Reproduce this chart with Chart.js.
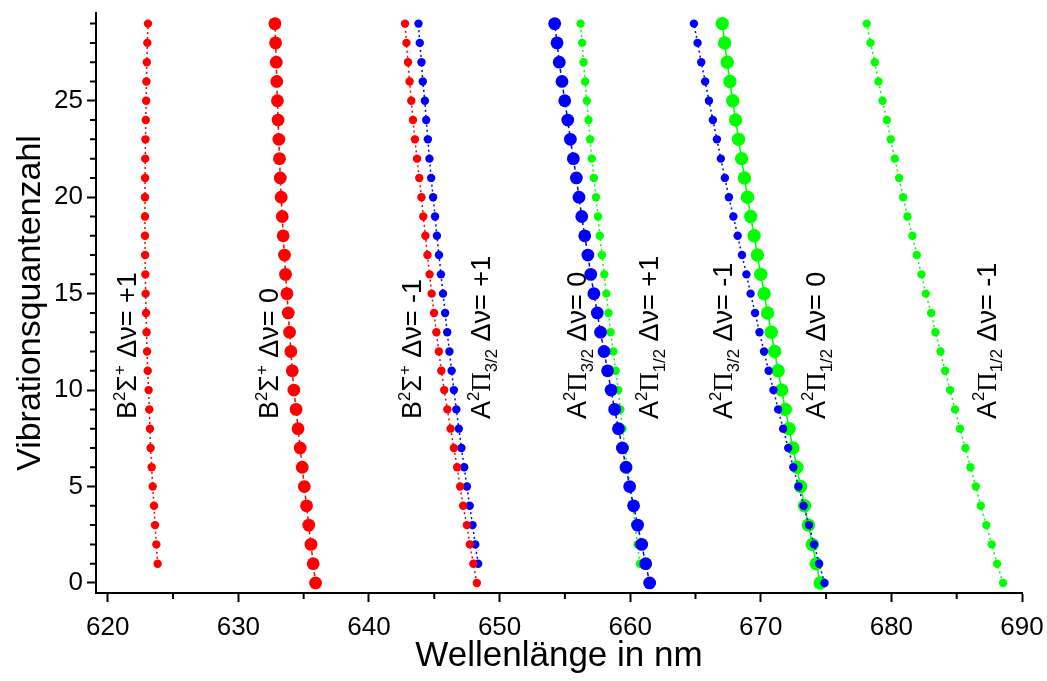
<!DOCTYPE html>
<html>
<head>
<meta charset="utf-8">
<script src="https://cdn.jsdelivr.net/npm/chart.js@4.4.0/dist/chart.umd.min.js"></script>
<style>
    html, body { margin: 0; padding: 0; background: #fff; }
    canvas { display: block; }
</style>
</head>
<body>
<canvas id="bandChart" width="1047" height="681"></canvas>
<script>
// Vibrationsquantenzahl v (y-Achse)
const vAll = [0, 1, 2, 3, 4, 5, 6, 7, 8, 9, 10, 11, 12, 13, 14, 15, 16, 17, 18, 19, 20, 21, 22, 23, 24, 25, 26, 27, 28, 29];
const vFromOne = [1, 2, 3, 4, 5, 6, 7, 8, 9, 10, 11, 12, 13, 14, 15, 16, 17, 18, 19, 20, 21, 22, 23, 24, 25, 26, 27, 28, 29];

// Wellenlängen in nm, Reihenfolge wie v
const bSigmaPlus1 = [623.82, 623.72, 623.62, 623.54, 623.44, 623.36, 623.28, 623.23, 623.18, 623.13, 623.06, 623.01, 622.97, 622.93, 622.90, 622.88, 622.86, 622.85, 622.85, 622.85, 622.86, 622.87, 622.89, 622.91, 622.94, 622.96, 622.99, 623.03, 623.08];
const bSigma0 = [635.91, 635.73, 635.56, 635.39, 635.22, 635.05, 634.89, 634.73, 634.57, 634.42, 634.25, 634.13, 634.02, 633.92, 633.82, 633.72, 633.61, 633.53, 633.43, 633.36, 633.28, 633.21, 633.15, 633.10, 633.04, 632.99, 632.94, 632.90, 632.85, 632.80];
const bSigmaMinus1 = [648.26, 647.99, 647.72, 647.49, 647.21, 646.98, 646.75, 646.50, 646.25, 646.00, 645.76, 645.54, 645.35, 645.16, 644.98, 644.80, 644.64, 644.48, 644.32, 644.16, 644.02, 643.85, 643.68, 643.52, 643.37, 643.24, 643.11, 642.99, 642.87, 642.76];
const aPi32Plus1 = [648.36, 648.14, 647.93, 647.71, 647.50, 647.29, 647.08, 646.88, 646.69, 646.50, 646.33, 646.16, 645.99, 645.83, 645.67, 645.51, 645.36, 645.20, 645.06, 644.91, 644.76, 644.63, 644.51, 644.38, 644.28, 644.12, 644.02, 643.89, 643.79];
const aPi32_0 = [661.49, 661.19, 660.88, 660.57, 660.26, 659.96, 659.68, 659.40, 659.10, 658.81, 658.54, 658.27, 658.00, 657.73, 657.48, 657.22, 656.98, 656.76, 656.52, 656.29, 656.08, 655.88, 655.65, 655.42, 655.22, 654.99, 654.78, 654.57, 654.40, 654.22];
const aPi12Plus1 = [660.75, 660.56, 660.37, 660.18, 659.98, 659.79, 659.60, 659.41, 659.25, 659.09, 658.89, 658.71, 658.50, 658.34, 658.17, 658.02, 657.84, 657.67, 657.54, 657.38, 657.22, 657.06, 656.93, 656.81, 656.68, 656.55, 656.43, 656.32, 656.20];
const aPi32Minus1 = [674.88, 674.47, 674.08, 673.69, 673.28, 672.89, 672.49, 672.10, 671.71, 671.33, 670.97, 670.60, 670.25, 669.90, 669.56, 669.22, 668.90, 668.56, 668.23, 667.90, 667.56, 667.25, 666.94, 666.64, 666.33, 666.03, 665.74, 665.44, 665.16, 664.88];
const aPi12_0 = [674.55, 674.25, 673.95, 673.65, 673.35, 673.05, 672.76, 672.46, 672.17, 671.88, 671.60, 671.33, 671.06, 670.80, 670.52, 670.26, 670.00, 669.74, 669.49, 669.23, 668.98, 668.75, 668.53, 668.30, 668.07, 667.85, 667.64, 667.43, 667.23, 667.05];
const aPi12Minus1 = [688.55, 688.09, 687.68, 687.27, 686.84, 686.46, 686.05, 685.67, 685.25, 684.87, 684.49, 684.11, 683.76, 683.37, 683.04, 682.63, 682.30, 681.94, 681.61, 681.23, 680.90, 680.59, 680.26, 679.95, 679.65, 679.32, 679.01, 678.73, 678.40, 678.11];

// Achsen
const xTicks = [620, 630, 640, 650, 660, 670, 680, 690];
const yTicks = [0, 5, 10, 15, 20, 25];

const RED = '#ff0000';
const BLUE = '#0000ff';
const GREEN = '#00ff00';
const FONT = '"Liberation Sans", Arial, sans-serif';

function series(xs, vs, color, radius, dash, order) {
    return {
        data: xs.map((x, i) => ({ x: x, y: vs[i] })),
        showLine: true,
        borderColor: color,
        backgroundColor: color,
        borderWidth: 1.5,
        borderDash: dash,
        pointRadius: radius,
        pointHoverRadius: radius,
        pointBorderWidth: 0,
        order: order
    };
}

// Beschriftung der Banden (gedreht), Position in Datenkoordinaten
const seriesLabels = [
    { x: 622.19, y: 8.5, parts: [['B', ''], ['2', 'sup'], ['Σ', ''], ['+', 'sup'], [' Δν= +1', '']] },
    { x: 633.05, y: 8.5, parts: [['B', ''], ['2', 'sup'], ['Σ', ''], ['+', 'sup'], [' Δν= 0', '']] },
    { x: 643.99, y: 8.5, parts: [['B', ''], ['2', 'sup'], ['Σ', ''], ['+', 'sup'], [' Δν= -1', '']] },
    { x: 649.30, y: 8.5, parts: [['A', ''], ['2', 'sup'], ['Π', 'serif'], ['3/2', 'sub'], [' Δν= +1', '']] },
    { x: 656.62, y: 8.5, parts: [['A', ''], ['2', 'sup'], ['Π', 'serif'], ['3/2', 'sub'], [' Δν= 0', '']] },
    { x: 662.13, y: 8.5, parts: [['A', ''], ['2', 'sup'], ['Π', 'serif'], ['1/2', 'sub'], [' Δν= +1', '']] },
    { x: 667.79, y: 8.5, parts: [['A', ''], ['2', 'sup'], ['Π', 'serif'], ['3/2', 'sub'], [' Δν= -1', '']] },
    { x: 674.90, y: 8.5, parts: [['A', ''], ['2', 'sup'], ['Π', 'serif'], ['1/2', 'sub'], [' Δν= 0', '']] },
    { x: 687.98, y: 8.5, parts: [['A', ''], ['2', 'sup'], ['Π', 'serif'], ['1/2', 'sub'], [' Δν= -1', '']] }
];

const bandLabels = {
    id: 'bandLabels',
    afterDatasetsDraw(chart) {
        const { ctx, scales: { x, y } } = chart;
        const size = 27;
        ctx.save();
        ctx.fillStyle = '#000';
        ctx.textBaseline = 'alphabetic';
        ctx.textAlign = 'left';
        seriesLabels.forEach(lab => {
            ctx.save();
            ctx.translate(x.getPixelForValue(lab.x), y.getPixelForValue(lab.y));
            ctx.rotate(-Math.PI / 2);
            let cx = 0;
            lab.parts.forEach(([text, kind]) => {
                let dy = 0;
                let s = size;
                let family = FONT;
                if (kind === 'sup') { s = size * 0.62; dy = -size * 0.42; }
                if (kind === 'sub') { s = size * 0.62; dy = size * 0.25; }
                if (kind === 'serif') { family = '"Liberation Serif", "Times New Roman", serif'; }
                ctx.font = s + 'px ' + family;
                ctx.fillText(text, cx, dy);
                cx += ctx.measureText(text).width;
            });
            ctx.restore();
        });
        ctx.restore();
    }
};

// kleine Zwischenstriche auf den Achsen
const minorTicks = {
    id: 'minorTicks',
    afterDraw(chart) {
        const { ctx, scales: { x, y }, chartArea } = chart;
        ctx.save();
        ctx.strokeStyle = '#000';
        ctx.lineWidth = 2;
        ctx.beginPath();
        for (let v = 0; v <= y.max; v++) {
            if (v % 5 === 0) continue;
            const py = y.getPixelForValue(v);
            ctx.moveTo(chartArea.left, py);
            ctx.lineTo(chartArea.left - 6, py);
        }
        for (let w = 625; w < x.max; w += 10) {
            const px = x.getPixelForValue(w);
            ctx.moveTo(px, chartArea.bottom);
            ctx.lineTo(px, chartArea.bottom + 6);
        }
        ctx.stroke();
        ctx.restore();
    }
};

const ctx = document.getElementById('bandChart').getContext('2d');

const chart = new Chart(ctx, {
    type: 'scatter',
    data: {
        datasets: [
            series(bSigmaPlus1, vFromOne, RED, 4.2, [2, 3], 1),
            series(bSigma0, vAll, RED, 6.4, [4, 3], 1),
            series(bSigmaMinus1, vAll, RED, 4.2, [2, 3], 1),
            series(aPi32Plus1, vFromOne, BLUE, 4.2, [2, 3], 2),
            series(aPi32_0, vAll, BLUE, 6.4, [4, 3], 2),
            series(aPi32Minus1, vAll, BLUE, 4.2, [2, 3], 2),
            series(aPi12Plus1, vFromOne, GREEN, 4.2, [2, 3], 3),
            series(aPi12_0, vAll, GREEN, 6.7, [], 3),
            series(aPi12Minus1, vAll, GREEN, 4.2, [2, 3], 3)
        ]
    },
    options: {
        responsive: false,
        animation: false,
        devicePixelRatio: 1,
        layout: { padding: { top: 13, right: 25, left: 0, bottom: 0 } },
        plugins: {
            legend: { display: false },
            tooltip: { enabled: false }
        },
        scales: {
            x: {
                type: 'linear',
                min: 619.1,
                max: 690,
                afterBuildTicks: scale => { scale.ticks = xTicks.map(v => ({ value: v })); },
                afterFit: scale => {
                    scale.height = 88;
                    scale.paddingLeft = 0;
                    scale.paddingRight = 0;
                },
                border: { display: true, color: '#000', width: 2 },
                grid: { drawOnChartArea: false, drawTicks: true, tickLength: 9, tickColor: '#000', tickWidth: 2 },
                ticks: { color: '#000', font: { family: FONT, size: 26 }, padding: 10, maxRotation: 0 },
                title: {
                    display: true,
                    text: 'Wellenlänge in nm',
                    color: '#000',
                    font: { family: FONT, size: 35 },
                    padding: { top: 4, bottom: 4 }
                }
            },
            y: {
                type: 'linear',
                min: -0.52,
                max: 29.55,
                afterBuildTicks: scale => { scale.ticks = yTicks.map(v => ({ value: v })); },
                afterFit: scale => {
                    scale.width = 96;
                    scale.paddingTop = 0;
                    scale.paddingBottom = 0;
                },
                border: { display: true, color: '#000', width: 2 },
                grid: { drawOnChartArea: false, drawTicks: true, tickLength: 9, tickColor: '#000', tickWidth: 2 },
                ticks: { color: '#000', font: { family: FONT, size: 26 }, padding: 4 },
                title: {
                    display: true,
                    text: 'Vibrationsquantenzahl',
                    color: '#000',
                    font: { family: FONT, size: 34 },
                    padding: { top: 10, bottom: 4 }
                }
            }
        }
    },
    plugins: [bandLabels, minorTicks]
});
</script>
</body>
</html>
